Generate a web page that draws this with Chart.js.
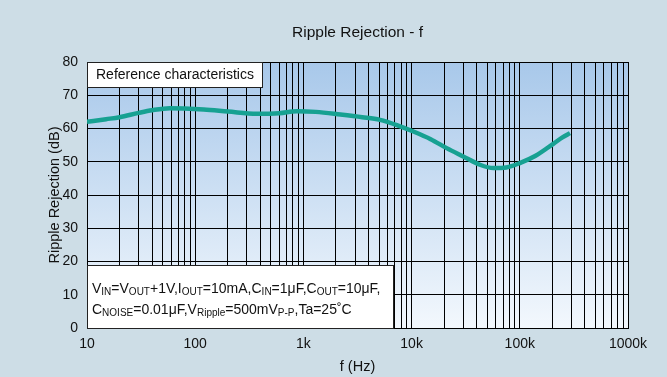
<!DOCTYPE html>
<html>
<head>
<meta charset="utf-8">
<script src="https://cdn.jsdelivr.net/npm/chart.js@4/dist/chart.umd.min.js"></script>
<style>
  html, body { margin: 0; padding: 0; background: #cddde6; }
  canvas { display: block; }
</style>
</head>
<body>
<canvas id="c" width="667" height="377"></canvas>
<script>
// Frequency (Hz) and ripple rejection (dB)
const freqHz = [10, 15, 20, 30, 40, 58, 80, 120, 200, 370, 600, 870, 1300, 2200, 3500, 5100, 7500, 10400, 15000, 21100, 30000, 42800, 57000, 75000, 100000, 140000, 204000, 250000, 291000];
const rejectionDb = [62.0, 62.8, 63.4, 64.7, 65.5, 66.1, 66.0, 65.7, 65.1, 64.4, 64.6, 65.2, 65.0, 64.2, 63.4, 62.6, 60.9, 59.1, 56.8, 54.1, 51.6, 49.1, 48.1, 48.3, 49.6, 51.8, 55.4, 57.4, 58.6];

// Decade tick labels on the frequency axis
const decadeValues = [10, 100, 1000, 10000, 100000, 1000000];
const decadeLabels = ['10', '100', '1k', '10k', '100k', '1000k'];

const chartTitle = 'Ripple Rejection - f';
const xTitle = 'f (Hz)';
const yTitle = 'Ripple Rejection (dB)';
const noteTitle = 'Reference characteristics';
// Condition lines: [text, isSubscript]
const conditionLine1 = [['V', 0], ['IN', 1], ['=V', 0], ['OUT', 1], ['+1V,I', 0], ['OUT', 1], ['=10mA,C', 0], ['IN', 1], ['=1μF,C', 0], ['OUT', 1], ['=10μF,', 0]];
const conditionLine2 = [['C', 0], ['NOISE', 1], ['=0.01μF,V', 0], ['Ripple', 1], ['=500mV', 0], ['P-P', 1], [',Ta=25˚C', 0]];

const FONT = '"Liberation Sans", Arial, sans-serif';

const points = freqHz.map((f, i) => ({ x: f, y: rejectionDb[i] }));

// Gridline positions: 1..9 times each decade
const gridValues = [];
for (let d = 10; d < 1000000; d *= 10) {
  for (let m = 1; m < 10; m++) gridValues.push(d * m);
}
gridValues.push(1000000);

const decorPlugin = {
  id: 'decor',
  beforeDraw(chart) {
    const { ctx, chartArea: a } = chart;
    ctx.save();
    ctx.fillStyle = '#cddde6';
    ctx.fillRect(0, 0, chart.width, chart.height);
    const g = ctx.createLinearGradient(0, a.top, 0, a.bottom);
    g.addColorStop(0, '#a8c8ea');
    g.addColorStop(1, '#f3f8fd');
    ctx.fillStyle = g;
    ctx.fillRect(a.left, a.top, a.right - a.left, a.bottom - a.top);
    ctx.restore();
  },
  afterDatasetsDraw(chart) {
    const { ctx, chartArea: a } = chart;
    ctx.save();
    // note box at top-left of plot
    ctx.fillStyle = '#ffffff';
    ctx.strokeStyle = '#222222';
    ctx.lineWidth = 1;
    ctx.fillRect(a.left, a.top, 175, 25);
    ctx.strokeRect(a.left + 0.5, a.top + 0.5, 175, 25);
    ctx.fillStyle = '#111111';
    ctx.font = '14px ' + FONT;
    ctx.textBaseline = 'middle';
    ctx.textAlign = 'left';
    ctx.fillText(noteTitle, a.left + 9, a.top + 13);

    // conditions box at bottom-left of plot
    const bx = a.left, by = a.bottom - 63, bw = 306, bh = 63;
    ctx.fillStyle = '#ffffff';
    ctx.fillRect(bx, by, bw, bh);
    ctx.strokeRect(bx + 0.5, by + 0.5, bw, bh);
    ctx.fillStyle = '#111111';
    ctx.textBaseline = 'alphabetic';
    const drawLine = (parts, x, y) => {
      for (const [t, sub] of parts) {
        ctx.font = (sub ? '10px ' : '14px ') + FONT;
        ctx.fillText(t, x, sub ? y + 2 : y);
        x += ctx.measureText(t).width;
      }
    };
    drawLine(conditionLine1, bx + 5, by + 28);
    drawLine(conditionLine2, bx + 5, by + 49);
    ctx.restore();
  },
  afterDraw(chart) {
    const { ctx, chartArea: a } = chart;
    const cx = (a.left + a.right) / 2;
    ctx.save();
    ctx.fillStyle = '#111111';
    ctx.textAlign = 'center';
    ctx.textBaseline = 'middle';
    ctx.font = '15.5px ' + FONT;
    ctx.fillText(chartTitle, cx, 33);
    ctx.font = '14.5px ' + FONT;
    ctx.fillText(xTitle, cx, 367);
    ctx.translate(55, (a.top + a.bottom) / 2);
    ctx.rotate(-Math.PI / 2);
    ctx.fillText(yTitle, 0, 0);
    ctx.restore();
  }
};

new Chart(document.getElementById('c'), {
  type: 'line',
  data: {
    datasets: [{
      data: points,
      borderColor: '#17a192',
      borderWidth: 4.5,
      pointRadius: 0,
      fill: false,
      cubicInterpolationMode: 'monotone'
    }]
  },
  options: {
    responsive: false,
    devicePixelRatio: 1,
    animation: false,
    layout: { padding: { left: 0, right: 39, top: 62, bottom: 0 } },
    plugins: { legend: { display: false }, title: { display: false }, tooltip: { enabled: false } },
    scales: {
      x: {
        type: 'logarithmic',
        min: 10,
        max: 1000000,
        afterBuildTicks(scale) { scale.ticks = gridValues.map(v => ({ value: v })); },
        afterFit(scale) { scale.height = 49; },
        grid: { color: '#000000', lineWidth: 1, drawTicks: false },
        border: { display: true, color: '#000000', width: 1 },
        ticks: {
          autoSkip: false,
          maxRotation: 0,
          padding: 8,
          color: '#111111',
          font: { family: FONT, size: 14 },
          callback(value) {
            const i = decadeValues.indexOf(value);
            return i >= 0 ? decadeLabels[i] : '';
          }
        }
      },
      y: {
        min: 0,
        max: 80,
        afterFit(scale) { scale.width = 87; },
        grid: { color: '#000000', lineWidth: 1, drawTicks: false },
        border: { display: true, color: '#000000', width: 1 },
        ticks: {
          stepSize: 10,
          padding: 9,
          color: '#111111',
          font: { family: FONT, size: 14 }
        }
      }
    }
  },
  plugins: [decorPlugin]
});
</script>
</body>
</html>
